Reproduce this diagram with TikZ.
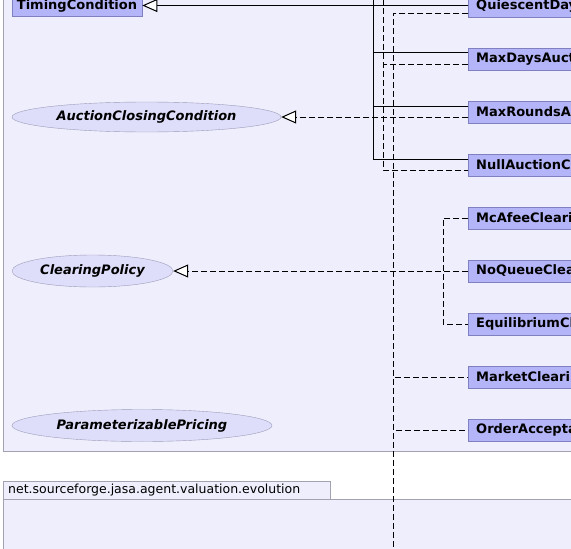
\documentclass[tikz,border=0pt]{standalone}
\usepackage{fontspec}
\setmainfont{DejaVu Sans}
\usepackage{tikz}
\usepackage{xcolor}
\usetikzlibrary{shapes.geometric, positioning, arrows.meta}
\definecolor{pkgfill}{RGB}{238,238,252}
\definecolor{pkgline}{RGB}{162,162,178}
\definecolor{classfill}{RGB}{180,180,248}
\definecolor{classline}{RGB}{128,128,192}
\definecolor{ellfill}{RGB}{222,222,250}
\definecolor{ellline}{RGB}{156,156,186}
\newcommand{\umlfont}{\fontsize{13}{15}\selectfont}
\newcommand{\pkgfont}{\fontsize{12.5}{15}\selectfont}

\begin{document}
\begin{tikzpicture}[x=1pt, y=-1pt,
    klass/.style={draw=classline, fill=classfill, font=\umlfont\bfseries, minimum height=22pt, inner ysep=0pt},
    rklass/.style={klass, anchor=west, text width=140pt, inner xsep=8pt, align=left},
    iface/.style={ellipse, draw=ellline, fill=ellfill, inner sep=0pt, font=\umlfont\bfseries\itshape},
    ext/.style={line width=1pt},
    impl/.style={line width=1pt, dash pattern=on 6pt off 3pt},
    gen/.style={-{Triangle[fill=white, length=15pt, width=13pt]}}]
     \useasboundingbox (0,0) rectangle (571,549);
     \clip (0,0) rectangle (571,549);
     % packages
     \draw[pkgline, fill=pkgfill] (3,-20) rectangle (620,451);
     \draw[pkgline, fill=pkgfill] (3,499) rectangle (620,620);
     \draw[pkgline, fill=pkgfill] (3,481) rectangle (330,499);
     \node[anchor=west, font=\pkgfont, inner sep=0pt] (evo) at (8,490) {net.sourceforge.jasa.agent.valuation.evolution};

     \node[klass, inner xsep=5pt, minimum width=130pt] (tc) at (77,5.5) {TimingCondition};
     \node[iface, minimum width=269pt, minimum height=30pt] (acc) at (146.5,117) {AuctionClosingCondition};
     \node[iface, minimum width=161pt, minimum height=32pt] (cp) at (92.5,271) {ClearingPolicy};
     \node[iface, minimum width=260pt, minimum height=32pt] (pp) at (142,425.5) {ParameterizablePricing};

     \node[rklass] (q) at (468,6) {QuiescentDay};
     \node[rklass] (md) at (468,59) {MaxDaysAuct};
     \node[rklass] (mr) at (468,112) {MaxRoundsA};
     \node[rklass] (na) at (468,165) {NullAuctionCl};
     \node[rklass] (mca) at (468,218) {McAfeeCleari};
     \node[rklass] (nq) at (468,271) {NoQueueClea};
     \node[rklass] (eq) at (468,324) {EquilibriumCl};
     \node[rklass] (mc) at (468,377) {MarketClearin};
     \node[rklass] (oa) at (468,430) {OrderAccepta};

     \coordinate (ttop) at (373,-10);
     \coordinate (dtop) at (383,-10);
     \coordinate (pbot) at (393,620);

     % timing condition
     \draw[ext, gen] ([yshift=0.5pt]q.west) -- (tc.east);
     \draw[ext] (ttop) |- ([yshift=7pt]md.west);
     \draw[ext] (ttop) |- ([yshift=6pt]mr.west);
     \draw[ext] (ttop) |- ([yshift=6pt]na.west);
     % closing condition
     \draw[impl, gen] ([yshift=-5pt]mr.west) -- (acc.east);
     \draw[impl] (dtop) |- ([yshift=-5pt]md.west);
     \draw[impl] (dtop) |- ([yshift=-5pt]na.west);
     % clearing policy
     \draw[impl, gen] (nq.west) -- (cp.east);
     \draw[impl] (mca.west) -- +(-25,0) |- (eq.west);
     % long one
     \draw[impl] ([yshift=-7pt]q.west) -| (pbot);
     \draw[impl] ([yshift=-7pt]q.west) -| (pbot |- mc.west) -- (mc.west);
     \draw[impl] ([yshift=-7pt]q.west) -| (pbot |- oa.west) -- (oa.west);
   \end{tikzpicture}
\end{document}
